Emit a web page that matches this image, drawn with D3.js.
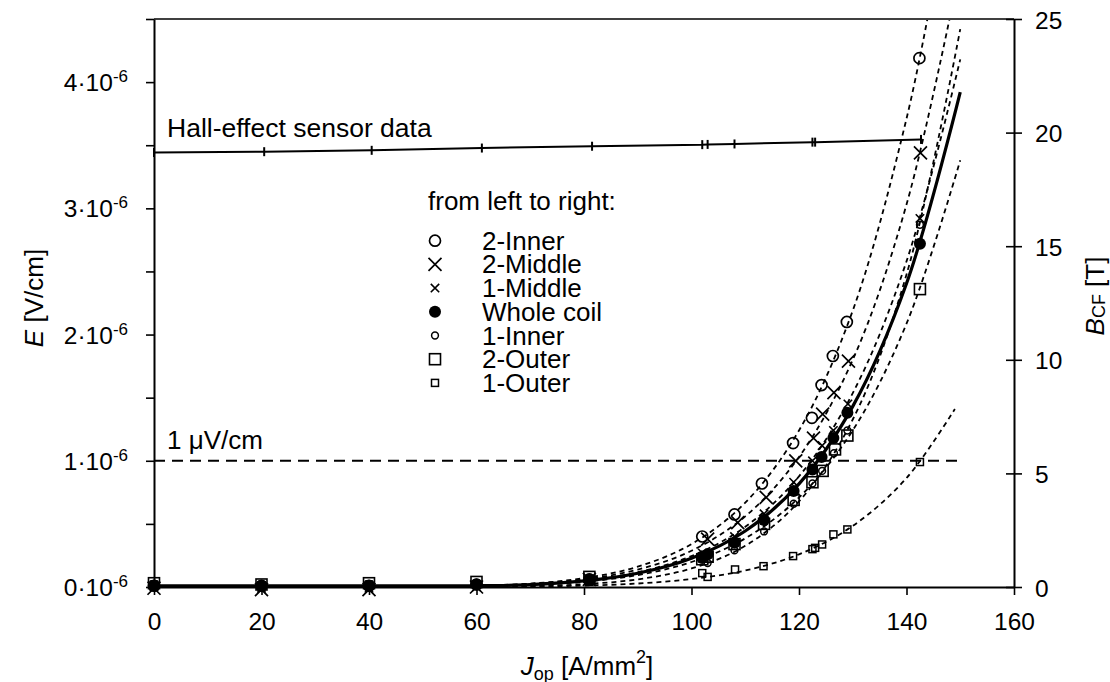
<!DOCTYPE html>
<html>
<head>
<meta charset="utf-8">
<script src="https://cdn.jsdelivr.net/npm/d3@7"></script>
<style>
  body { margin: 0; background: #fff; }
  svg { display: block; font-family: "Liberation Sans", Arial, sans-serif; }
</style>
</head>
<body>
<div id="chart"></div>
<script>
// measured points [J_op (A/mm2), E (uV/cm)]
const inner2Pts = [[0, 0.01], [20, 0.01], [40, 0.01], [60, 0.02], [81, 0.06], [102, 0.40], [108, 0.575], [113.1, 0.82], [118.9, 1.14], [122.4, 1.34], [124.2, 1.60], [126.3, 1.83], [128.9, 2.10], [142.4, 4.19]];
const middle2Pts = [[0, -0.01], [20, -0.02], [40, -0.02], [60, 0.0], [81, 0.06], [103, 0.38], [108.6, 0.51], [113.9, 0.71], [119.4, 1.0], [122.7, 1.18], [124.4, 1.37], [126.5, 1.54], [129.2, 1.79], [142.6, 3.44]];
const middle1Pts = [[0, 0], [20, -0.01], [40, -0.01], [60, 0], [81, 0.05], [102, 0.27], [108, 0.40], [113.5, 0.58], [119, 0.83], [122.5, 1.0], [124.3, 1.12], [126.4, 1.24], [129.1, 1.45], [142.5, 2.92]];
const wholePts = [[0, 0.01], [20, 0.01], [40, 0.01], [60, 0.02], [81, 0.06], [102, 0.23], [103, 0.26], [108, 0.35], [113.5, 0.53], [119, 0.76], [122.5, 0.93], [124.2, 1.03], [126.4, 1.18], [129, 1.38], [142.5, 2.72]];
const inner1Pts = [[0, 0], [20, 0.01], [40, 0], [60, 0.01], [81, 0.04], [103, 0.19], [108, 0.29], [113.5, 0.44], [119, 0.66], [122.5, 0.82], [124.3, 0.92], [126.5, 1.06], [129, 1.24], [142.5, 2.87]];
const outer2Pts = [[0, 0.03], [20, 0.02], [40, 0.03], [60, 0.04], [81, 0.08], [102, 0.22], [103, 0.24], [108, 0.34], [113.5, 0.50], [119, 0.69], [122.5, 0.83], [124.4, 0.92], [126.7, 1.09], [129, 1.20], [142.5, 2.36]];
const outer1Pts = [[0, 0.02], [20, 0.01], [40, 0.02], [60, 0.02], [81, 0.04], [102, 0.11], [103, 0.08], [108.1, 0.139], [113.4, 0.165], [118.9, 0.245], [122.5, 0.30], [123, 0.31], [124.3, 0.337], [126.4, 0.417], [129, 0.456], [142.5, 0.99]];

// trend curves
const inner2Fit = [[60, 0.009], [70, 0.027], [80, 0.07], [90, 0.161], [100, 0.34], [110, 0.668], [120, 1.24], [130, 2.19], [140, 3.71], [145, 4.75]];
const middle2Fit = [[60, 0.008], [70, 0.024], [80, 0.06], [90, 0.138], [100, 0.287], [110, 0.56], [120, 1.03], [130, 1.80], [140, 3.03], [150, 4.91]];
const middle1Fit = [[60, 0.007], [70, 0.02], [80, 0.051], [90, 0.117], [100, 0.245], [110, 0.477], [120, 0.877], [130, 1.536], [140, 2.58], [150, 4.18]];
const inner1Fit = [[60, 0.002], [70, 0.007], [80, 0.0225], [90, 0.0605], [100, 0.147], [110, 0.326], [120, 0.678], [130, 1.327], [140, 2.475], [150, 4.42]];
const outer2Fit = [[60, 0.0055], [70, 0.0163], [80, 0.0415], [90, 0.0946], [100, 0.198], [110, 0.385], [120, 0.709], [130, 1.241], [140, 2.086], [150, 3.38]];
const outer1Fit = [[60, 0.001], [70, 0.004], [80, 0.011], [90, 0.0275], [100, 0.063], [110, 0.131], [120, 0.259], [130, 0.484], [140, 0.863], [149, 1.41]];
const wholeFit = [[0, 0.01], [20, 0.01], [40, 0.01], [60, 0.01], [70, 0.019], [80, 0.048], [90, 0.109], [100, 0.228], [110, 0.444], [120, 0.817], [130, 1.431], [140, 2.404], [150, 3.92]];

// Hall-effect sensor, [J_op, B_CF (T)]
const hallPts = [[0, 19.12], [20.5, 19.16], [40.5, 19.22], [61, 19.32], [81.5, 19.4], [102, 19.47], [103, 19.48], [108, 19.5], [122.5, 19.58], [123, 19.58], [142.7, 19.7]];

const xTicks = [0, 20, 40, 60, 80, 100, 120, 140, 160];
const eTicks = [0, 0.5, 1, 1.5, 2, 2.5, 3, 3.5, 4, 4.5];
const eLabels = [0, 1, 2, 3, 4];
const bTicks = [0, 5, 10, 15, 20, 25];
const criterion = 1; // uV/cm
const criterionEnd = 150;

const series = [
  { name: "2-Inner", type: "circleBig", pts: inner2Pts, fit: inner2Fit },
  { name: "2-Middle", type: "xBig", pts: middle2Pts, fit: middle2Fit },
  { name: "1-Middle", type: "xSmall", pts: middle1Pts, fit: middle1Fit },
  { name: "Whole coil", type: "dot", pts: wholePts, fit: null },
  { name: "1-Inner", type: "circleSmall", pts: inner1Pts, fit: inner1Fit },
  { name: "2-Outer", type: "squareBig", pts: outer2Pts, fit: outer2Fit },
  { name: "1-Outer", type: "squareSmall", pts: outer1Pts, fit: outer1Fit },
];

const width = 1110, height = 682;
const margin = { top: 19, right: 96, bottom: 95, left: 154 };
const innerWidth = width - margin.left - margin.right;
const innerHeight = height - margin.top - margin.bottom;

const svg = d3.select("#chart").append("svg").attr("width", width).attr("height", height);
const g = svg.append("g").attr("transform", `translate(${margin.left},${margin.top})`);

const x = d3.scaleLinear().domain([0, 160]).range([0, innerWidth]);
const yE = d3.scaleLinear().domain([0, 4.5]).range([innerHeight, 0]);
const yB = d3.scaleLinear().domain([0, 25]).range([innerHeight, 0]);

svg.append("clipPath").attr("id", "plotClip")
  .append("rect").attr("x", 0).attr("y", 0).attr("width", innerWidth).attr("height", innerHeight + 6);

function marker(sel, type, cx, cy) {
  const m = sel.append("g").attr("transform", `translate(${cx},${cy})`)
    .attr("fill", "none").attr("stroke", "#000");
  if (type === "circleBig") m.append("circle").attr("r", 5.5).attr("stroke-width", 1.7);
  else if (type === "circleSmall") m.append("circle").attr("r", 3.4).attr("stroke-width", 1.5);
  else if (type === "dot") m.append("circle").attr("r", 6).attr("fill", "#000").attr("stroke", "none");
  else if (type === "xBig") m.append("path").attr("d", "M-6.5,-6.5L6.5,6.5M-6.5,6.5L6.5,-6.5").attr("stroke-width", 1.7);
  else if (type === "xSmall") m.append("path").attr("d", "M-4.2,-4.2L4.2,4.2M-4.2,4.2L4.2,-4.2").attr("stroke-width", 1.6);
  else if (type === "squareBig") m.append("rect").attr("x", -5.5).attr("y", -5.5).attr("width", 11).attr("height", 11).attr("stroke-width", 1.6);
  else if (type === "squareSmall") m.append("rect").attr("x", -3.5).attr("y", -3.5).attr("width", 7).attr("height", 7).attr("stroke-width", 1.5);
}

// 1 uV/cm criterion
g.append("line")
  .attr("x1", x(0)).attr("x2", x(criterionEnd))
  .attr("y1", yE(criterion)).attr("y2", yE(criterion))
  .attr("stroke", "#000").attr("stroke-width", 2).attr("stroke-dasharray", "11,7");

const lineE = d3.line().x((d) => x(d[0])).y((d) => yE(d[1])).curve(d3.curveCatmullRom);
const plot = g.append("g").attr("clip-path", "url(#plotClip)");

series.filter((s) => s.fit).forEach((s) => {
  plot.append("path").datum(s.fit).attr("d", lineE)
    .attr("fill", "none").attr("stroke", "#000").attr("stroke-width", 1.8)
    .attr("stroke-dasharray", "5,4");
});

plot.append("path").datum(wholeFit).attr("d", lineE)
  .attr("fill", "none").attr("stroke", "#000").attr("stroke-width", 3.2);

series.forEach((s) => {
  const grp = g.append("g");
  s.pts.forEach((d) => marker(grp, s.type, x(d[0]), yE(d[1])));
});

// Hall-effect sensor line
const lineB = d3.line().x((d) => x(d[0])).y((d) => yB(d[1]));
g.append("path").datum(hallPts).attr("d", lineB)
  .attr("fill", "none").attr("stroke", "#000").attr("stroke-width", 2);
g.append("g").selectAll("line").data(hallPts).join("line")
  .attr("x1", (d) => x(d[0])).attr("x2", (d) => x(d[0]))
  .attr("y1", (d) => yB(d[1]) - 4.5).attr("y2", (d) => yB(d[1]) + 4.5)
  .attr("stroke", "#000").attr("stroke-width", 2);

// top frame
g.append("line").attr("x1", 0).attr("x2", innerWidth).attr("y1", 0).attr("y2", 0)
  .attr("stroke", "#404040").attr("stroke-width", 2);

// axes
const xAxis = g.append("g").attr("transform", `translate(0,${innerHeight})`)
  .call(d3.axisBottom(x).tickValues(xTicks).tickSize(8).tickPadding(18).tickSizeOuter(0));
const leftAxis = g.append("g")
  .call(d3.axisLeft(yE).tickValues(eTicks).tickSize(8).tickFormat("").tickSizeOuter(0));
const rightAxis = g.append("g").attr("transform", `translate(${innerWidth},0)`)
  .call(d3.axisRight(yB).tickValues(bTicks).tickSize(8).tickPadding(13).tickSizeOuter(0));

[xAxis, leftAxis, rightAxis].forEach((a) => {
  a.select(".domain").attr("stroke", "#000").attr("stroke-width", 2);
  a.selectAll(".tick line").attr("stroke", "#000").attr("stroke-width", 1.6);
  a.selectAll("text").attr("font-size", 24.5).attr("font-family", "Liberation Sans, Arial, sans-serif").attr("fill", "#000");
});
rightAxis.selectAll(".tick line").attr("x1", -8).attr("x2", 8);
rightAxis.selectAll("text").attr("dy", "0.37em");

// E tick labels with superscript
eLabels.forEach((v) => {
  const t = g.append("text").attr("x", -26).attr("y", yE(v) + 9)
    .attr("text-anchor", "end").attr("font-size", 24.5);
  t.append("tspan").text(`${v}\u00b710`);
  t.append("tspan").attr("font-size", 17).attr("dy", -9).text("-6");
});

// annotations
g.append("text").attr("x", 13).attr("y", 118).attr("font-size", 26.5).text("Hall-effect sensor data");
g.append("text").attr("x", 13).attr("y", 430).attr("font-size", 26).text("1 \u03bcV/cm");

// legend
const legend = g.append("g").attr("transform", "translate(281,0)");
legend.append("text").attr("x", -7).attr("y", 191).attr("font-size", 26).text("from left to right:");
series.forEach((s, i) => {
  const cy = 221.7 + i * 23.7;
  marker(legend, s.type, 0, cy);
  legend.append("text").attr("x", 47).attr("y", cy + 9).attr("font-size", 26).text(s.name);
});

// axis titles
const yTitle = svg.append("text").attr("transform", "translate(43,298) rotate(-90)")
  .attr("text-anchor", "middle").attr("font-size", 26);
yTitle.append("tspan").attr("font-style", "italic").text("E");
yTitle.append("tspan").text(" [V/cm]");

const bTitle = svg.append("text").attr("transform", "translate(1104,296) rotate(-90)")
  .attr("text-anchor", "middle").attr("font-size", 26);
bTitle.append("tspan").attr("font-style", "italic").text("B");
bTitle.append("tspan").attr("font-size", 18).attr("dy", 1).text("CF");
bTitle.append("tspan").attr("dy", -1).text(" [T]");

const xTitle = svg.append("text").attr("x", 587).attr("y", 675)
  .attr("text-anchor", "middle").attr("font-size", 26);
xTitle.append("tspan").attr("font-style", "italic").text("J");
xTitle.append("tspan").attr("font-size", 18).attr("dy", 5).text("op");
xTitle.append("tspan").attr("dy", -5).text(" [A/mm");
xTitle.append("tspan").attr("font-size", 18).attr("dy", -12).text("2");
xTitle.append("tspan").attr("dy", 12).text("]");
</script>
</body>
</html>
